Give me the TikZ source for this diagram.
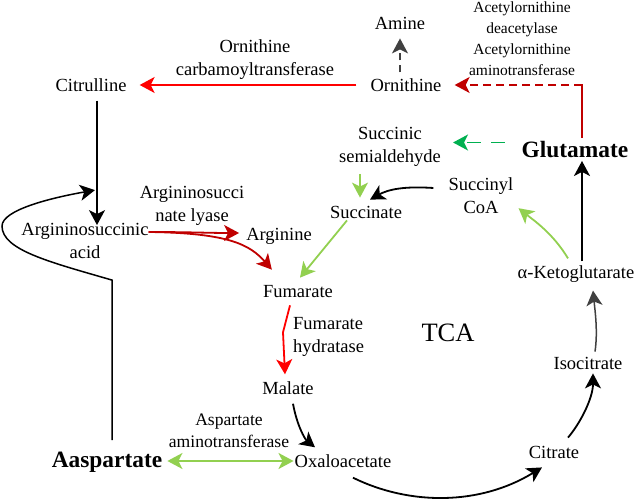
\documentclass[tikz,border=0pt]{standalone}
\usepackage{fontspec}
\setmainfont{Liberation Serif}
\usetikzlibrary{arrows.meta,calc}
\definecolor{brightred}{rgb}{1,0,0}
\definecolor{darkred}{rgb}{0.753,0,0}
\definecolor{midgreen}{rgb}{0,0.69,0.314}
\definecolor{lightgreen}{rgb}{0.573,0.816,0.314}
\definecolor{darkgray}{rgb}{0.251,0.251,0.251}

\begin{document}
\begin{tikzpicture}[x=1pt,y=-1pt,
    >={Stealth[length=15pt,width=16pt,inset=4pt]},
    metab/.style={font=\fontsize{18.5}{23}\selectfont, inner sep=0pt, align=center},
    enzyme/.style={font=\fontsize{17.6}{22}\selectfont, inner sep=0pt, align=center},
    keymetab/.style={font=\fontsize{23.4}{28}\selectfont\bfseries, inner sep=0pt},
    conn/.style={line width=1.8pt, ->}
    ]
        \def\lwthin{1.5pt} % thinner connectors

        % keep the page the size of the reference
        \useasboundingbox (0,0) rectangle (638,502);

        % Define metabolites
        \foreach \n/\x/\y/\t in
        {
            cit/91/85/Citrulline,
            orn/406/85/Ornithine,
            amine/400/23/Amine,
            ssa/390/147/Succinic\\semialdehyde,
            suc/366/212/Succinate,
            scoa/481/196/Succinyl\\CoA,
            akg/576/274/α-Ketoglutarate,
            iso/588/363/Isocitrate,
            citr/554/452/Citrate,
            oaa/343/461/Oxaloacetate,
            mal/288/388/Malate,
            fum/298/292/Fumarate,
            arg/279/236/Arginine,
            asa/85/241/Argininosuccinic\\acid
        } {
        \node[metab] (\n) at (\x,\y) {\t};
        }
        \node[keymetab] (glu) at (575,149.5) {Glutamate};
        \node[keymetab] (asp) at (107,462.5) {Aaspartate};
        \node[metab, font=\fontsize{26.5}{30}\selectfont] (tca) at (448,333) {TCA};

        % Define enzyme labels
        \node[metab] (lblotc) at (255,60) {Ornithine\\carbamoyltransferase};
        \node[enzyme, font=\fontsize{15.5}{21}\selectfont] (lblacet) at (522,38.5)
            {Acetylornithine\\deacetylase\\Acetylornithine\\aminotransferase};
        \node[metab] (lblasl) at (192,205.5) {Argininosucci\\nate lyase};
        \node[metab, anchor=west, align=left] (lblfh) at (293,336.5) {Fumarate\\hydratase};
        \node[enzyme] (lblast) at (229,431) {Aspartate\\aminotransferase};

        % Urea cycle side
        \draw[conn, brightred, shorten <=14pt, shorten >=13pt] (orn.west) -- (cit.east);
        \draw[conn, darkgray, line width=\lwthin, dash pattern=on 7pt off 5pt, shorten <=6pt, shorten >=9pt]
            (orn.north -| amine.south) -- (amine.south);
        \coordinate (acetcorner) at (582,85);
        \draw[darkred, line width=1.8pt, line cap=rect] ($(glu.north)+(7,-4)$) -- (acetcorner);
        \draw[conn, darkred, dash pattern=on 8pt off 5pt, shorten >=13pt] (acetcorner) -- (orn.east);
        \draw[conn] ($(cit.south)+(6,9)$) -- ($(asa.north)+(12,2)$);
        \draw[conn, line width=\lwthin] ($(asp.north)+(5,-12)$) -- ++(0,-160)
            .. controls +(-62,-18) and +(0,24) .. ++(-110,-54)
            .. controls +(0,-16) and +(-45,8) .. ($(asa.north)+(10,-33)$);
        \draw[conn, darkred] ($(asa.east)+(0,-9)$) .. controls +(40,0) and +(-30,0) .. ($(arg.west)+(-7,-3)$);
        \draw[conn, darkred] ($(asa.east)+(0,-9)$) .. controls +(80,1) and +(-22,-25) .. ($(fum.north west)+(9,-16)$);

        % GABA shunt
        \draw[conn, midgreen, dash pattern=on 14pt off 10pt, shorten <=17pt, shorten >=12pt]
            ($(glu.west)+(0,-7)$) -- ($(glu.west -| ssa.east)+(0,-7)$);
        \draw[conn, lightgreen, shorten <=7pt, shorten >=8pt] ($(ssa.south -| suc.north)+(-6,0)$) -- ($(suc.north)+(-6,0)$);

        % TCA cycle
        \draw[conn] ($(scoa.west)+(-15,-8)$) .. controls +(-30,-2) and +(18,-10) .. ($(suc.north)+(4,-6)$);
        \draw[conn, lightgreen] ($(suc.south)+(-19,2)$) -- ($(fum.north)+(2,-8)$);
        \draw[conn, brightred] ($(fum.south)+(-8,7)$) -- ++(-7,27) -- ($(mal.north)+(-3,-7)$);
        \draw[conn] ($(mal.south)+(5,9)$) .. controls +(4,22) and +(-10,-8) .. ($(oaa.north)+(-28,-7)$);
        \draw[conn] ($(oaa.south)+(10,10)$) .. controls +(57,28) and +(-62,38) .. ($(citr.south)+(-12,9)$);
        \draw[conn] ($(citr.north)+(14,-8)$) .. controls +(12,-14) and +(0,25) .. ($(iso.south)+(5,4)$);
        \draw[conn, darkgray, line width=\lwthin] ($(iso.north)+(7,-5)$) .. controls +(3,-20) and +(2,20) .. ($(akg.south)+(17,8)$);
        \draw[conn, lightgreen] ($(akg.north)+(-8,-7)$) .. controls +(-15,-25) and +(15,12) .. ($(scoa.south east)+(5,-6)$);
        \draw[conn, shorten >=3pt] ($(akg.north)+(6,-4)$) -- ($(glu.south)+(7,0)$);

        % Transamination
        \draw[lightgreen, line width=1.8pt, <->, shorten <=5pt, shorten >=1pt] (asp.east |- oaa.west) -- (oaa.west);
    \end{tikzpicture}
\end{document}
